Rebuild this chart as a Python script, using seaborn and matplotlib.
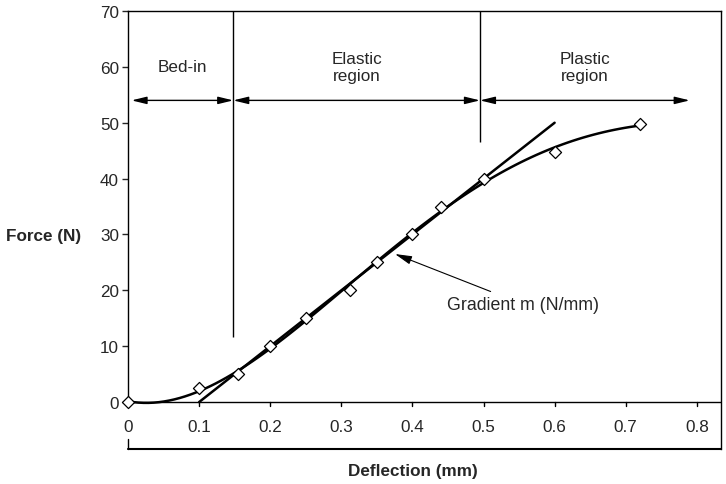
import matplotlib
matplotlib.use("Agg")
import matplotlib.pyplot as plt
import seaborn as sns
import pandas as pd

# --- data ---
deflection = [0.0, 0.10, 0.155, 0.20, 0.25, 0.312, 0.35, 0.40, 0.44, 0.50, 0.60, 0.72]
force = [0.0, 2.5, 5.0, 10.0, 15.0, 20.0, 25.0, 30.0, 35.0, 40.0, 44.7, 49.7]

gradient_x = [0.10, 0.60]
gradient_y = [0.0, 50.0]

# region boundaries (x) and where each boundary line stops (y)
boundary_x = [0.148, 0.495]
boundary_bottom = [11.6, 46.5]

region_labels = ["Bed-in", "Elastic\nregion", "Plastic\nregion"]
region_start = [0.005, 0.148, 0.495]
region_end = [0.148, 0.495, 0.79]
arrow_y = 54.0
label_y = 60.0

x_ticks = [0, 0.1, 0.2, 0.3, 0.4, 0.5, 0.6, 0.7, 0.8]
x_ticklabels = ["0", "0.1", "0.2", "0.3", "0.4", "0.5", "0.6", "0.7", "0.8"]
y_ticks = [0, 10, 20, 30, 40, 50, 60, 70]

df = pd.DataFrame({"Deflection": deflection, "Force": force})

sns.set_style("white")
plt.rcParams["font.family"] = ["Liberation Sans", "DejaVu Sans"]
FS = 12.3

fig = plt.figure(figsize=(7.26, 4.85), dpi=100)
ax = fig.add_axes([128 / 726, 35 / 485, 593 / 726, 438 / 485])

x_min, x_max = 0.0, 0.834
y_min, y_max = -8.4, 70.0

# polynomial trendline + measured points
sns.regplot(data=df, x="Deflection", y="Force", order=4, ci=None, scatter=False,
            color="black", line_kws=dict(lw=1.8, zorder=3), ax=ax)
sns.lineplot(x=gradient_x, y=gradient_y, color="black", lw=1.8, ax=ax, zorder=3)
sns.scatterplot(data=df, x="Deflection", y="Force", marker="D", s=38,
                facecolor="white", edgecolor="black", linewidth=0.9, ax=ax,
                zorder=5, clip_on=False)

# region boundaries
ax.vlines(boundary_x, boundary_bottom, y_max, color="black", lw=1.0, zorder=2)

# region arrows + labels
for lab, x0, x1 in zip(region_labels, region_start, region_end):
    ax.annotate("", xy=(x1, arrow_y), xytext=(x0, arrow_y),
                arrowprops=dict(arrowstyle="<|-|>,head_length=0.9,head_width=0.22",
                                color="black", lw=1.0, shrinkA=0, shrinkB=0))
    ax.text((x0 + x1) / 2, label_y, lab, ha="center", va="center",
            fontsize=FS, linespacing=1.15)

# gradient annotation
ax.annotate("Gradient m (N/mm)", xy=(0.3755, 26.5), xytext=(0.449, 17.5),
            ha="left", va="center", fontsize=12.8,
            arrowprops=dict(arrowstyle="-|>,head_length=0.8,head_width=0.2",
                            color="black", lw=0.8, shrinkA=2, shrinkB=0))

ax.set_xlim(x_min, x_max)
ax.set_ylim(y_min, y_max)

# axis styling: x axis sits at y=0, frame below it
ax.spines["bottom"].set_visible(False)
ax.spines["left"].set_bounds(0, y_max)
for s in ["top", "right", "left"]:
    ax.spines[s].set_color("black")
    ax.spines[s].set_linewidth(1.0)
ax.axhline(0, color="black", lw=1.0, zorder=2)
ax.plot([x_min, x_max], [y_min, y_min], color="black", lw=1.5, clip_on=False)
ax.plot([0, 0], [-6.6, y_min], color="black", lw=1.0, clip_on=False)

ax.set_yticks(y_ticks)
ax.tick_params(axis="y", direction="out", length=4.5, width=1.0, pad=2, left=True,
               labelsize=FS)
ax.set_xticks([])
for xt, xl in zip(x_ticks, x_ticklabels):
    ax.plot([xt, xt], [0, -0.75], color="black", lw=1.0, clip_on=False)
    ax.text(xt, -4.3, xl, ha="center", va="center", fontsize=FS)

ax.set_xlabel("Deflection (mm)", fontweight="bold", fontsize=FS)
ax.xaxis.set_label_coords(0.48, -0.05)
ax.xaxis.label.set_va("center")
ax.set_ylabel("Force (N)", fontweight="bold", fontsize=FS, rotation=0,
              ha="right", va="center")
ax.yaxis.set_label_coords(-0.079, 0.487)

fig.savefig("out.png", dpi=100)
